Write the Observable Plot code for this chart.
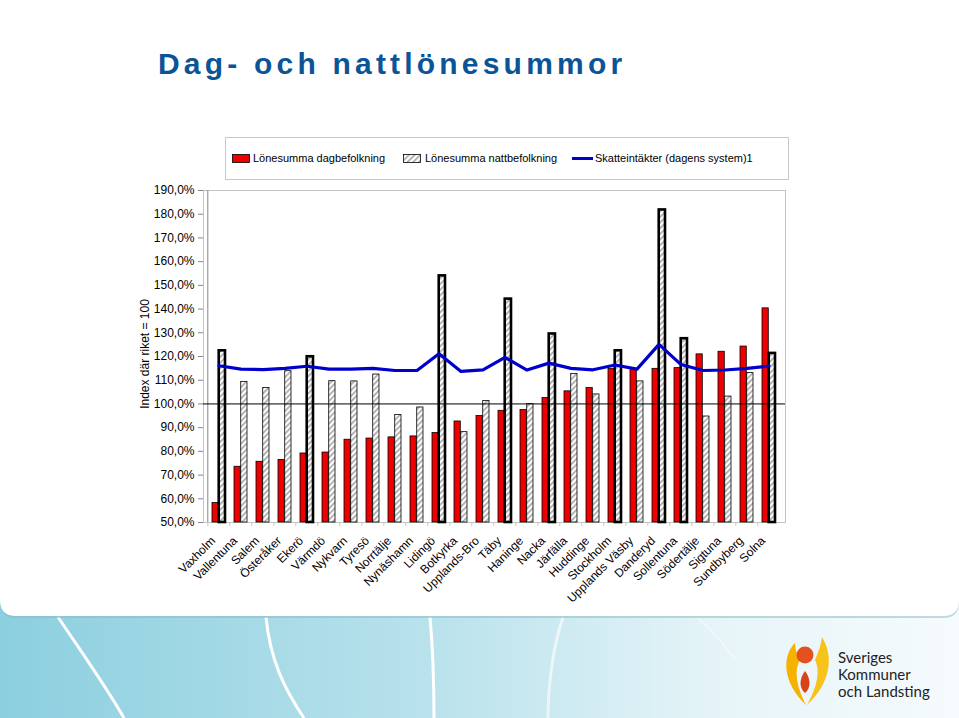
<!DOCTYPE html>
<html>
<head>
<meta charset="utf-8">
<script src="https://cdn.jsdelivr.net/npm/d3@7"></script>
<script src="https://cdn.jsdelivr.net/npm/@observablehq/plot@0.6"></script>
<style>
  html, body { margin: 0; padding: 0; background: #fff; }
  #page { position: relative; width: 959px; height: 718px; overflow: hidden; font-family: Arial, "Liberation Sans", sans-serif; }
  .abs { position: absolute; }
  #title { left: 158px; top: 47px; font-size: 30px; font-weight: bold; color: #0b5496; letter-spacing: 4.2px; white-space: nowrap; }
  #legend { left: 225px; top: 137px; width: 562px; height: 41px; border: 1px solid #c8c8c8; background: #fff; }
  .lg { position: absolute; font-size: 11px; color: #000; white-space: nowrap; top: 14px; }
  #ylabel { left: 145px; top: 354px; font-size: 12px; color: #000; white-space: nowrap; transform: translate(-50%, -50%) rotate(-90deg); }
  #chart { left: 0; top: 180px; }
  .logo-text { position: absolute; left: 838px; font-family: Lato, "Open Sans", sans-serif; font-size: 15px; color: #222; white-space: nowrap; line-height: 17px; }
</style>
</head>
<body>
<div id="page">
  <svg class="abs" style="left:0;top:0" width="959" height="718">
    <defs>
      <linearGradient id="band" x1="0" x2="1" y1="0" y2="0">
        <stop offset="0" stop-color="#8ccfdf"/>
        <stop offset="0.45" stop-color="#b9e2ec"/>
        <stop offset="0.75" stop-color="#e6f4f8"/>
        <stop offset="1" stop-color="#f6fbfd"/>
      </linearGradient>
      <pattern id="hatch" patternUnits="userSpaceOnUse" width="4" height="4" patternTransform="rotate(45)">
        <rect x="0" y="0" width="4" height="4" fill="#ffffff"/>
        <rect x="0" y="0" width="1.7" height="4" fill="#a8a8a8"/>
      </pattern>
    </defs>
    <rect x="0" y="600" width="959" height="118" fill="url(#band)"/>
    <path d="M58,617 C80,650 105,685 124,718" stroke="#fff" stroke-width="3" fill="none"/>
    <path d="M266,617 C270,660 285,690 304,718" stroke="#fff" stroke-width="3" fill="none"/>
    <path d="M430,617 C433,650 434,690 434,718" stroke="#fff" stroke-width="3" fill="none"/>
    <path d="M563,617 C552,650 548,690 548,718" stroke="#fff" stroke-width="3" fill="none" opacity="0.6"/>
    <path d="M697,617 C712,630 725,645 735,660" stroke="#fff" stroke-width="2" fill="none" opacity="0.4"/>
    <path d="M0,0 H959 V600 Q959,616 943,616 H16 Q0,616 0,600 Z" fill="#8ab8c4" opacity="0.5" transform="translate(0,2)"/>
    <path d="M0,0 H959 V600 Q959,616 943,616 H16 Q0,616 0,600 Z" fill="#ffffff"/>
  </svg>

  <div id="title" class="abs">Dag- och nattlönesummor</div>

  <div id="legend" class="abs"></div>
  <div id="ylabel" class="abs">Index där riket = 100</div>
  <div id="chart" class="abs"></div>

  <svg class="abs" style="left:0;top:0" width="959" height="718">
    <path d="M795,643 C782,656 782,682 806,705 C798,689 793,672 800,660 C797,655 795,649 795,643 Z" fill="#f5b200"/>
    <path d="M822,637 C834,656 831,683 807,705 C816,689 821,672 815,660 C818,653 821,645 822,637 Z" fill="#f7c21a"/>
    <circle cx="805" cy="655" r="8.5" fill="#e5501f"/>
    <path d="M805,671 C811,679 811,688 805,693 C799,688 799,679 805,671 Z" fill="#d8431b"/>
  </svg>
  <div class="logo-text" style="top:649px">Sveriges</div>
  <div class="logo-text" style="top:666px">Kommuner</div>
  <div class="logo-text" style="top:683px">och Landsting</div>
</div>

<script>
// ---- Data ----
const names = ["Vaxholm","Vallentuna","Salem","Österåker","Ekerö","Värmdö","Nykvarn","Tyresö","Norrtälje","Nynäshamn","Lidingö","Botkyrka","Upplands-Bro","Täby","Haninge","Nacka","Järfälla","Huddinge","Stockholm","Upplands Väsby","Danderyd","Sollentuna","Södertälje","Sigtuna","Sundbyberg","Solna"];
const dag   = [58.2, 73.5, 75.6, 76.4, 79.1, 79.5, 84.9, 85.4, 85.9, 86.3, 87.7, 92.6, 94.9, 97.1, 97.4, 102.5, 105.3, 106.7, 114.8, 114.7, 114.8, 115.1, 120.9, 122.0, 124.2, 140.3];
const natt  = [122.4, 109.3, 106.7, 113.8, 119.9, 109.6, 109.5, 112.4, 95.3, 98.5, 154.0, 88.1, 101.2, 144.2, 99.9, 129.5, 112.6, 104.0, 122.4, 109.5, 181.8, 127.5, 94.7, 103.1, 113.0, 121.3];
const skatt = [116.1, 114.7, 114.5, 115.0, 115.9, 114.7, 114.7, 115.0, 114.1, 114.1, 121.2, 113.7, 114.4, 119.6, 114.3, 117.2, 115.0, 114.4, 116.4, 114.7, 125.1, 116.6, 114.1, 114.3, 115.0, 116.0];
const riket = 100;
const yTicks = [50, 60, 70, 80, 90, 100, 110, 120, 130, 140, 150, 160, 170, 180, 190];
const seriesNames = ["Lönesumma dagbefolkning", "Lönesumma nattbefolkning", "Skatteintäkter (dagens system)1"];

const data = names.map((name, i) => ({name, dag: dag[i], natt: natt[i], skatt: skatt[i]}));
const highlighted = data.filter(d => d.natt > d.skatt);
const normal = data.filter(d => d.natt <= d.skatt);

// ---- Layout ----
const W = 959, H = 440, mL = 203, mR = 174, mT = 10, mB = 98;
const step = (W - mL - mR) / names.length;
const pInner = 0.4, pOuter = 0.2;
const bw = step * (1 - pInner);
const yMin = yTicks[0];
const RED = "#ee0000", BLUE = "#0000cc";

const fmt = d => d.toFixed(1).replace(".", ",") + "%";

const chart = Plot.plot({
  width: W, height: H,
  marginLeft: mL, marginRight: mR, marginTop: mT, marginBottom: mB,
  style: {background: "transparent", fontFamily: "Arial, 'Liberation Sans', sans-serif", overflow: "visible"},
  x: {type: "band", domain: names, paddingInner: pInner, paddingOuter: pOuter, axis: null},
  y: {domain: [yTicks[0], yTicks[yTicks.length - 1]], axis: null},
  marks: [
    Plot.frame({stroke: "#c4c4c4", strokeWidth: 1}),
    Plot.ruleX([names[0]], {dx: -step / 2, stroke: "#868686", strokeWidth: 1}),
    Plot.axisY(yTicks, {tickFormat: fmt, tickSize: 5, tickPadding: 4, fontSize: 12, stroke: "#868686", color: "#000"}),
    Plot.ruleX(names, {x: d => d, dx: -step / 2, y1: yMin, y2: yMin, insetBottom: -4, stroke: "#bbb", strokeWidth: 0.8}),
    Plot.barY(data, {x: "name", y1: yMin, y2: "dag", fill: RED, stroke: "#000", strokeWidth: 0.8, insetRight: bw / 2}),
    Plot.barY(normal, {x: "name", y1: yMin, y2: "natt", fill: "url(#hatch)", stroke: "#000", strokeWidth: 0.8, insetLeft: bw / 2}),
    Plot.barY(highlighted, {x: "name", y1: yMin, y2: "natt", fill: "url(#hatch)", stroke: "#000", strokeWidth: 2.6, insetLeft: bw / 2}),
    Plot.ruleY([riket], {stroke: "#000", strokeWidth: 1}),
    Plot.line(data, {x: "name", y: "skatt", stroke: BLUE, strokeWidth: 3.2, strokeLinejoin: "round"}),
    Plot.text(names, {x: d => d, y: yMin, text: d => d, dx: -3, dy: 19, rotate: -45, textAnchor: "end", lineAnchor: "bottom", fontSize: 12, fill: "#000"})
  ]
});
document.getElementById("chart").appendChild(chart);

// ---- Legend (HTML) ----
const legend = document.getElementById("legend");
const items = [
  {sw: `<svg width="18" height="9"><rect x="0.5" y="0.5" width="17" height="8" fill="${RED}" stroke="#000" stroke-width="0.8"/></svg>`, left: 6, tleft: 27},
  {sw: `<svg width="18" height="9"><rect x="0.5" y="0.5" width="17" height="8" fill="url(#hatch)" stroke="#000" stroke-width="0.8"/></svg>`, left: 177, tleft: 199},
  {sw: `<svg width="21" height="9"><line x1="0" x2="21" y1="4.5" y2="4.5" stroke="${BLUE}" stroke-width="3"/></svg>`, left: 346, tleft: 369}
];
items.forEach((it, i) => {
  const s = document.createElement("div");
  s.style.cssText = `position:absolute;left:${it.left}px;top:16px;line-height:0`;
  s.innerHTML = it.sw;
  legend.appendChild(s);
  const t = document.createElement("div");
  t.className = "lg";
  t.style.left = it.tleft + "px";
  t.textContent = seriesNames[i];
  legend.appendChild(t);
});
</script>
</body>
</html>
